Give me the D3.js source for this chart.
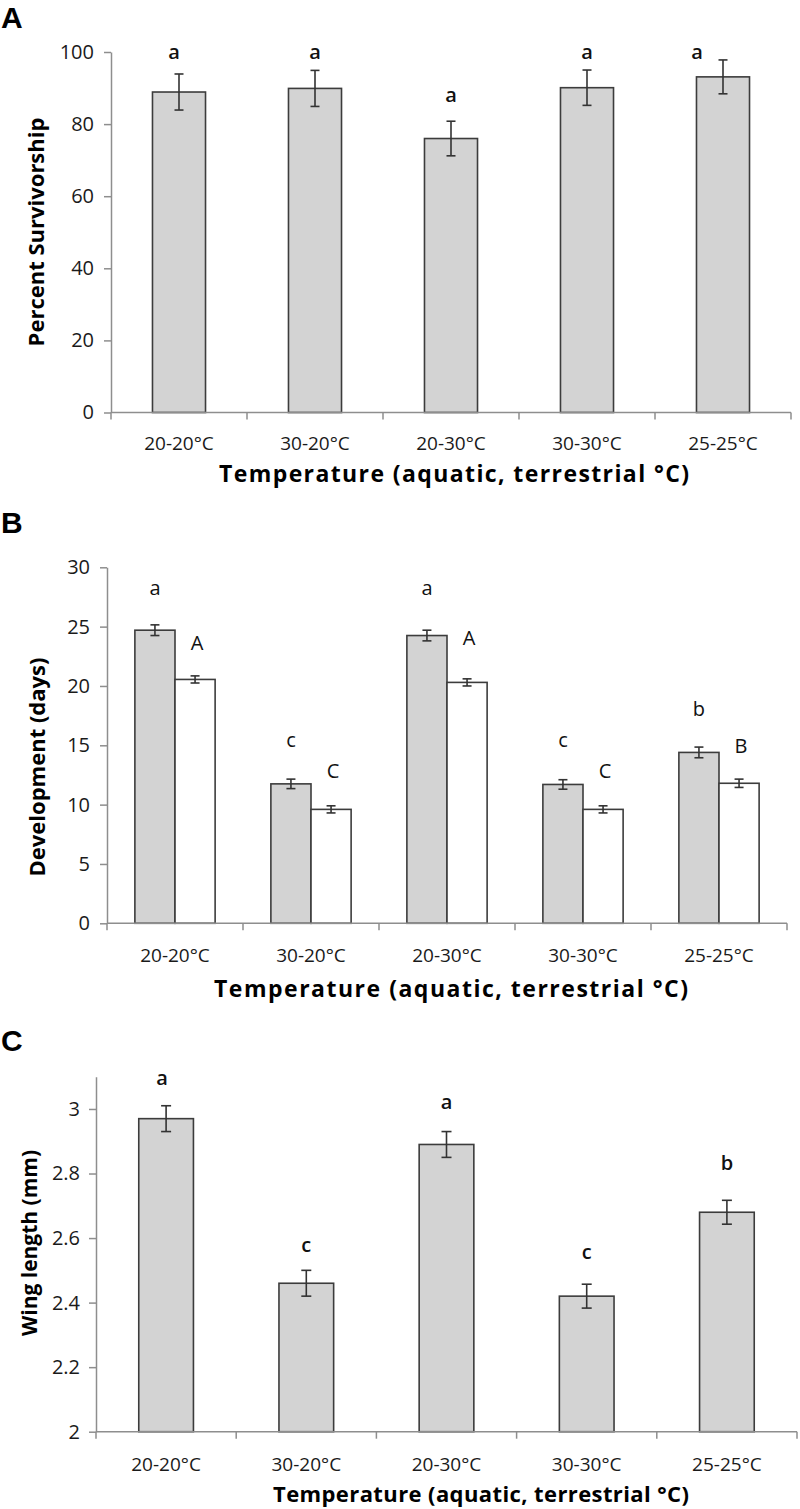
<!DOCTYPE html>
<html>
<head>
<meta charset="utf-8">
<script src="https://cdn.jsdelivr.net/npm/d3@7"></script>
<style>
  html, body { margin: 0; padding: 0; background: #fff; }
  svg { display: block; }
</style>
</head>
<body>
<script>
// ---------------- DATA ----------------
const categories = ["20-20°C", "30-20°C", "20-30°C", "30-30°C", "25-25°C"];

// Panel A: percent survivorship
const survivalMean = [88.9, 89.9, 76.0, 90.1, 93.1];
const survivalErr = [5.0, 5.0, 4.8, 4.9, 4.7];
const survivalLetters = ["a", "a", "a", "a", "a"];
const survivalLetterAt = [100, 100, 88, 100, 100];
const survivalTicks = [0, 20, 40, 60, 80, 100];

// Panel B: development (days), two series
const devSeries = ["grey", "white"];
const devGreyMean = [24.7, 11.75, 24.25, 11.7, 14.4];
const devGreyErr = [0.45, 0.4, 0.45, 0.4, 0.45];
const devWhiteMean = [20.55, 9.6, 20.3, 9.6, 11.8];
const devWhiteErr = [0.3, 0.3, 0.3, 0.3, 0.35];
const devGreyLetters = ["a", "c", "a", "c", "b"];
const devGreyLetterAt = [28.25, 15.4, 28.2, 15.4, 18.05];
const devWhiteLetters = ["A", "C", "A", "C", "B"];
const devWhiteLetterAt = [23.6, 12.8, 24.0, 12.8, 14.9];
const devTicks = [0, 5, 10, 15, 20, 25, 30];

// Panel C: wing length (mm)
const wingMean = [2.97, 2.46, 2.89, 2.42, 2.68];
const wingErr = [0.04, 0.04, 0.04, 0.037, 0.037];
const wingLetters = ["a", "c", "a", "c", "b"];
const wingLetterAt = [3.096, 2.578, 3.02, 2.555, 2.83];
const wingTicks = [2, 2.2, 2.4, 2.6, 2.8, 3];

const xTitle = "Temperature (aquatic, terrestrial °C)";

// ---------------- STYLE ----------------
const W = 800, H = 1509;
const FONT = "'Open Sans', 'DejaVu Sans', sans-serif";
const BAR_FILL = "#d3d3d3";
const BAR_STROKE = "#3c3c3c";
const AXIS_COL = "#8e8e8e";
const TEXT_COL = "#1a1a1a";

const svg = d3.select("body").append("svg")
  .attr("width", W).attr("height", H)
  .attr("viewBox", `0 0 ${W} ${H}`);

function panelLabel(txt, x, y) {
  svg.append("text").attr("x", x).attr("y", y).text(txt)
    .attr("font-family", "'Liberation Sans', Arial, sans-serif")
    .attr("font-weight", "bold").attr("font-size", 30).attr("fill", "#000");
}

function drawAxes(g, x, y, ticks, fmt, opts) {
  const [x0, x1] = x.range();
  const yBase = y.range()[0];
  // y axis
  const ya = g.append("g").attr("transform", `translate(${x0},0)`)
    .call(d3.axisLeft(y).tickValues(ticks).tickFormat(fmt).tickSize(7).tickSizeOuter(0).tickPadding(opts.tickPad));
  ya.select(".domain").attr("stroke", AXIS_COL).attr("stroke-width", 1.5);
  ya.selectAll(".tick line").attr("stroke", AXIS_COL).attr("stroke-width", 1.5);
  ya.selectAll(".tick text").attr("font-family", FONT).attr("font-size", opts.tickFont).attr("fill", TEXT_COL);

  // x axis: category labels at band centers, tick marks at band boundaries
  const xa = g.append("g").attr("transform", `translate(0,${yBase})`)
    .call(d3.axisBottom(x).tickSize(0).tickPadding(opts.catPad));
  xa.select(".domain").remove();
  xa.selectAll(".tick text").attr("font-family", FONT).attr("font-size", opts.catFont).attr("fill", TEXT_COL);
  g.append("line").attr("x1", x0).attr("x2", x1).attr("y1", yBase).attr("y2", yBase)
    .attr("stroke", AXIS_COL).attr("stroke-width", 1.5);
  const bounds = d3.range(x.domain().length + 1).map(i => x0 + i * x.step());
  g.selectAll(".xb").data(bounds).join("line")
    .attr("x1", d => d).attr("x2", d => d).attr("y1", yBase).attr("y2", yBase + 7)
    .attr("stroke", AXIS_COL).attr("stroke-width", 1.5);

  // titles
  g.append("text").text(xTitle)
    .attr("x", opts.xTitleX).attr("y", yBase + opts.xTitleDy)
    .attr("text-anchor", "middle").attr("font-family", FONT).attr("font-weight", "bold")
    .attr("font-size", opts.xTitleFont).attr("fill", "#000")
    .attr("textLength", opts.xTitleLen).attr("lengthAdjust", "spacing");
  g.append("text").text(opts.yTitle)
    .attr("transform", `translate(${opts.yTitleX},${opts.yTitleY}) rotate(-90)`)
    .attr("text-anchor", "middle").attr("dominant-baseline", "central")
    .attr("font-family", FONT).attr("font-weight", "bold")
    .attr("font-size", opts.yTitleFont).attr("fill", "#000");
}

function errorBars(g, rows, cap) {
  const eg = g.append("g").attr("stroke", "#333").attr("stroke-width", 1.6);
  rows.forEach(r => {
    eg.append("line").attr("x1", r.cx).attr("x2", r.cx).attr("y1", r.yHi).attr("y2", r.yLo);
    eg.append("line").attr("x1", r.cx - cap).attr("x2", r.cx + cap).attr("y1", r.yHi).attr("y2", r.yHi);
    eg.append("line").attr("x1", r.cx - cap).attr("x2", r.cx + cap).attr("y1", r.yLo).attr("y2", r.yLo);
  });
}

function simplePanel(cfg) {
  const g = svg.append("g");
  const x = d3.scaleBand().domain(categories).range(cfg.xRange).paddingInner(0).paddingOuter(0);
  const y = d3.scaleLinear().domain(cfg.yDomain).range(cfg.yRange);
  const bw = x.step() * cfg.barFrac;
  const rows = categories.map((c, i) => ({
    c, v: cfg.mean[i], e: cfg.err[i], lab: cfg.letters[i], labAt: cfg.letterAt[i],
    cx: x(c) + x.bandwidth() / 2
  }));
  g.selectAll("rect.bar").data(rows).join("rect").attr("class", "bar")
    .attr("x", d => d.cx - bw / 2).attr("width", bw)
    .attr("y", d => y(d.v)).attr("height", d => y(cfg.yDomain[0]) - y(d.v))
    .attr("fill", BAR_FILL).attr("stroke", BAR_STROKE).attr("stroke-width", 1.6);
  errorBars(g, rows.map(d => ({ cx: d.cx, yHi: y(d.v + d.e), yLo: y(d.v - d.e) })), cfg.cap);
  g.selectAll("text.sig").data(rows).join("text").attr("class", "sig")
    .attr("x", (d, i) => d.cx + (cfg.letterShift[i] || 0)).attr("y", d => y(d.labAt)).attr("dy", "0.33em")
    .attr("text-anchor", "middle").attr("font-family", FONT).attr("font-size", cfg.letterFont)
    .attr("font-weight", cfg.letterWeight).attr("fill", "#111").text(d => d.lab);
  drawAxes(g, x, y, cfg.ticks, cfg.fmt, cfg);
}

// ---------------- PANEL A ----------------
panelLabel("A", 1, 28);
simplePanel({
  xRange: [111, 791], yDomain: [0, 100], yRange: [412.5, 52],
  mean: survivalMean, err: survivalErr, letters: survivalLetters, letterAt: survivalLetterAt,
  letterShift: { 0: -5, 4: -26 },
  ticks: survivalTicks, fmt: d3.format("d"), barFrac: 0.39, cap: 4.5,
  letterFont: 20, letterWeight: 600,
  tickPad: 10, tickFont: 20, catPad: 24, catFont: 19,
  xTitleFont: 23, xTitleLen: 470, yTitleFont: 22,
  xTitleX: 454, xTitleDy: 69, yTitle: "Percent Survivorship", yTitleX: 35, yTitleY: 232
});

// ---------------- PANEL B ----------------
panelLabel("B", 1, 533);
(function () {
  const g = svg.append("g");
  const x = d3.scaleBand().domain(categories).range([107, 787]).paddingInner(0).paddingOuter(0);
  const y = d3.scaleLinear().domain([0, 30]).range([923.3, 567.3]);
  const inner = d3.scaleBand().domain(devSeries).range([0, x.step() * 0.59]).padding(0);
  const off = (x.step() - inner.range()[1]) / 2;
  const series = {
    grey: { mean: devGreyMean, err: devGreyErr, letters: devGreyLetters, at: devGreyLetterAt, fill: BAR_FILL, shift: 0 },
    white: { mean: devWhiteMean, err: devWhiteErr, letters: devWhiteLetters, at: devWhiteLetterAt, fill: "#ffffff", shift: 2 }
  };
  const rows = [];
  devSeries.forEach(s => categories.forEach((c, i) => {
    const bx = x(c) + off + inner(s);
    rows.push({ s, c, v: series[s].mean[i], e: series[s].err[i], lab: series[s].letters[i],
      labAt: series[s].at[i], x: bx, w: inner.bandwidth(), cx: bx + inner.bandwidth() / 2,
      fill: series[s].fill, shift: series[s].shift });
  }));
  g.selectAll("rect.bar").data(rows).join("rect").attr("class", "bar")
    .attr("x", d => d.x).attr("width", d => d.w)
    .attr("y", d => y(d.v)).attr("height", d => y(0) - y(d.v))
    .attr("fill", d => d.fill).attr("stroke", BAR_STROKE).attr("stroke-width", 1.6);
  errorBars(g, rows.map(d => ({ cx: d.cx, yHi: y(d.v + d.e), yLo: y(d.v - d.e) })), 4.5);
  g.selectAll("text.sig").data(rows).join("text").attr("class", "sig")
    .attr("x", d => d.cx + d.shift).attr("y", d => y(d.labAt)).attr("dy", "0.33em")
    .attr("text-anchor", "middle").attr("font-family", FONT).attr("font-size", 20)
    .attr("fill", "#111").text(d => d.lab);
  drawAxes(g, x, y, devTicks, d3.format("d"), {
    tickPad: 10, tickFont: 20, catPad: 25, catFont: 19,
    xTitleFont: 23, xTitleLen: 474, yTitleFont: 22,
    xTitleX: 451, xTitleDy: 74, yTitle: "Development (days)", yTitleX: 36, yTitleY: 767
  });
})();

// ---------------- PANEL C ----------------
panelLabel("C", 1, 1051);
simplePanel({
  xRange: [96, 797], yDomain: [2, 3.1], yRange: [1431.7, 1076.7],
  mean: wingMean, err: wingErr, letters: wingLetters, letterAt: wingLetterAt,
  letterShift: { 0: -4 },
  ticks: wingTicks, fmt: d3.format(".1~f"), barFrac: 0.39, cap: 5,
  letterFont: 20, letterWeight: 600,
  tickPad: 9, tickFont: 20, catPad: 26, catFont: 19,
  xTitleFont: 22, xTitleLen: 416, yTitleFont: 21,
  xTitleX: 481, xTitleDy: 70, yTitle: "Wing length (mm)", yTitleX: 29, yTitleY: 1243
});
</script>
</body>
</html>
